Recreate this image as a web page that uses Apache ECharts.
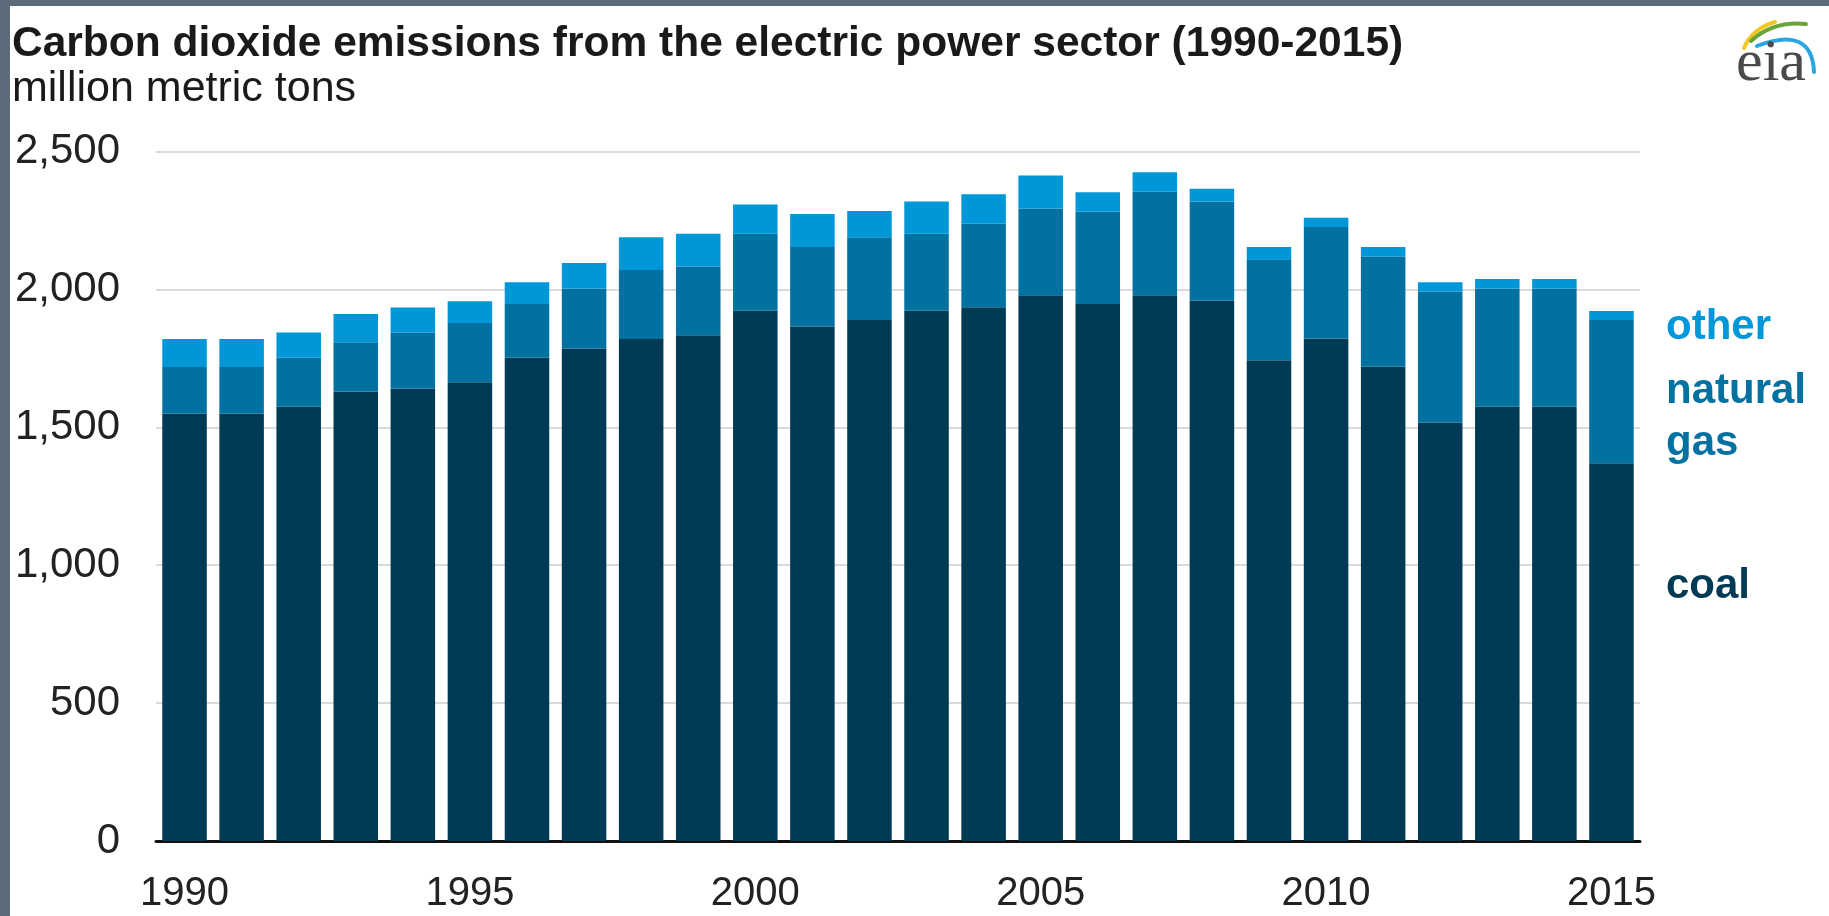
<!DOCTYPE html>
<html>
<head>
<meta charset="utf-8">
<script src="https://cdn.jsdelivr.net/npm/echarts@6/dist/echarts.min.js"></script>
<style>
  html, body { margin: 0; padding: 0; background: #ffffff; }
  #chart { width: 1829px; height: 916px; }
</style>
</head>
<body>
<div id="chart"></div>
<script>
// CO2 emissions from the electric power sector, million metric tons
const years = ['1990','1991','1992','1993','1994','1995','1996','1997','1998','1999',
               '2000','2001','2002','2003','2004','2005','2006','2007','2008','2009',
               '2010','2011','2012','2013','2014','2015'];
const coal = [1550, 1550, 1575, 1630, 1640, 1664, 1752, 1786, 1820, 1834,
              1923, 1866, 1889, 1923, 1936, 1979, 1947, 1979, 1959, 1743,
              1822, 1720, 1518, 1575, 1575, 1370];
const naturalGas = [169, 169, 177, 179, 203, 214, 195, 218, 251, 249,
                    279, 288, 300, 279, 302, 315, 336, 375, 360, 367,
                    405, 399, 474, 429, 429, 519];
const other = [101, 101, 92, 102, 92, 79, 79, 92, 118, 119,
               106, 120, 96, 117, 107, 119, 70, 71, 46, 44,
               33, 35, 34, 34, 34, 33];
const yTicks = [0, 500, 1000, 1500, 2000, 2500];

const colors = { coal: '#003a54', gas: '#0071a1', other: '#0097d8' };
const sans = '"Liberation Sans", Arial, sans-serif';

const chart = echarts.init(document.getElementById('chart'), null, { renderer: 'canvas' });

const barSeries = (name, data, color) => ({
  name: name,
  type: 'bar',
  stack: 'emissions',
  data: data,
  barCategoryGap: '22%',
  itemStyle: { color: color },
  emphasis: { disabled: true }
});

chart.setOption({
  animation: false,
  backgroundColor: '#ffffff',
  grid: { left: 156, right: 189, top: 151.6, bottom: 75, containLabel: false },
  xAxis: {
    type: 'category',
    data: years,
    axisLine: { show: true, lineStyle: { color: '#111111', width: 3 } },
    axisTick: { show: false },
    axisLabel: {
      interval: 4,
      margin: 33,
      fontFamily: sans,
      fontSize: 40,
      color: '#222222'
    },
    splitLine: { show: false }
  },
  yAxis: {
    type: 'value',
    min: yTicks[0],
    max: yTicks[yTicks.length - 1],
    interval: yTicks[1] - yTicks[0],
    axisLine: { show: false },
    axisTick: { show: false },
    axisLabel: {
      margin: 36,
      fontFamily: sans,
      fontSize: 42,
      color: '#222222',
      formatter: v => v.toLocaleString('en-US')
    },
    splitLine: { lineStyle: { color: '#dadada', width: 2 } }
  },
  series: [
    barSeries('coal', coal, colors.coal),
    barSeries('natural gas', naturalGas, colors.gas),
    barSeries('other', other, colors.other)
  ],
  graphic: [
    // frame strips
    { type: 'rect', left: 0, top: 0, shape: { width: 10, height: 916 }, style: { fill: '#5b6b7a' }, silent: true },
    { type: 'rect', left: 0, top: 0, shape: { width: 1829, height: 6 }, style: { fill: '#5b6b7a' }, silent: true },
    // headings
    { type: 'text', x: 12, y: 44, style: { text: 'Carbon dioxide emissions from the electric power sector (1990-2015)',
        font: 'bold 42.5px ' + sans, fill: '#1a1a1a', verticalAlign: 'middle', align: 'left' } },
    { type: 'text', x: 12, y: 89, style: { text: 'million metric tons',
        font: '43px ' + sans, fill: '#1a1a1a', verticalAlign: 'middle', align: 'left' } },
    // series labels
    { type: 'text', x: 1666, y: 327, style: { text: 'other', font: 'bold 42px ' + sans, fill: colors.other, verticalAlign: 'middle' } },
    { type: 'text', x: 1666, y: 391, style: { text: 'natural', font: 'bold 42px ' + sans, fill: colors.gas, verticalAlign: 'middle' } },
    { type: 'text', x: 1666, y: 443, style: { text: 'gas', font: 'bold 42px ' + sans, fill: colors.gas, verticalAlign: 'middle' } },
    { type: 'text', x: 1666, y: 586, style: { text: 'coal', font: 'bold 42px ' + sans, fill: colors.coal, verticalAlign: 'middle' } },
    // eia logo
    { type: 'bezierCurve', shape: { x1: 1744, y1: 48, cpx1: 1752, cpy1: 29, x2: 1775, y2: 22 },
      style: { stroke: '#f2c624', lineWidth: 4, fill: null, lineCap: 'round' }, silent: true },
    { type: 'bezierCurve', shape: { x1: 1751, y1: 41, cpx1: 1773, cpy1: 21, x2: 1806, y2: 24 },
      style: { stroke: '#6aa53a', lineWidth: 4, fill: null, lineCap: 'round' }, silent: true },
    { type: 'bezierCurve', shape: { x1: 1757, y1: 46, cpx1: 1812, cpy1: 25, x2: 1814, y2: 72 },
      style: { stroke: '#2ba6e1', lineWidth: 4, fill: null, lineCap: 'round' }, silent: true },
    { type: 'text', x: 1736, y: 64, style: { text: 'eia', font: '60px "Liberation Serif", "Times New Roman", serif',
        fill: '#4a4a4a', verticalAlign: 'middle', align: 'left' } }
  ]
});
</script>
</body>
</html>
